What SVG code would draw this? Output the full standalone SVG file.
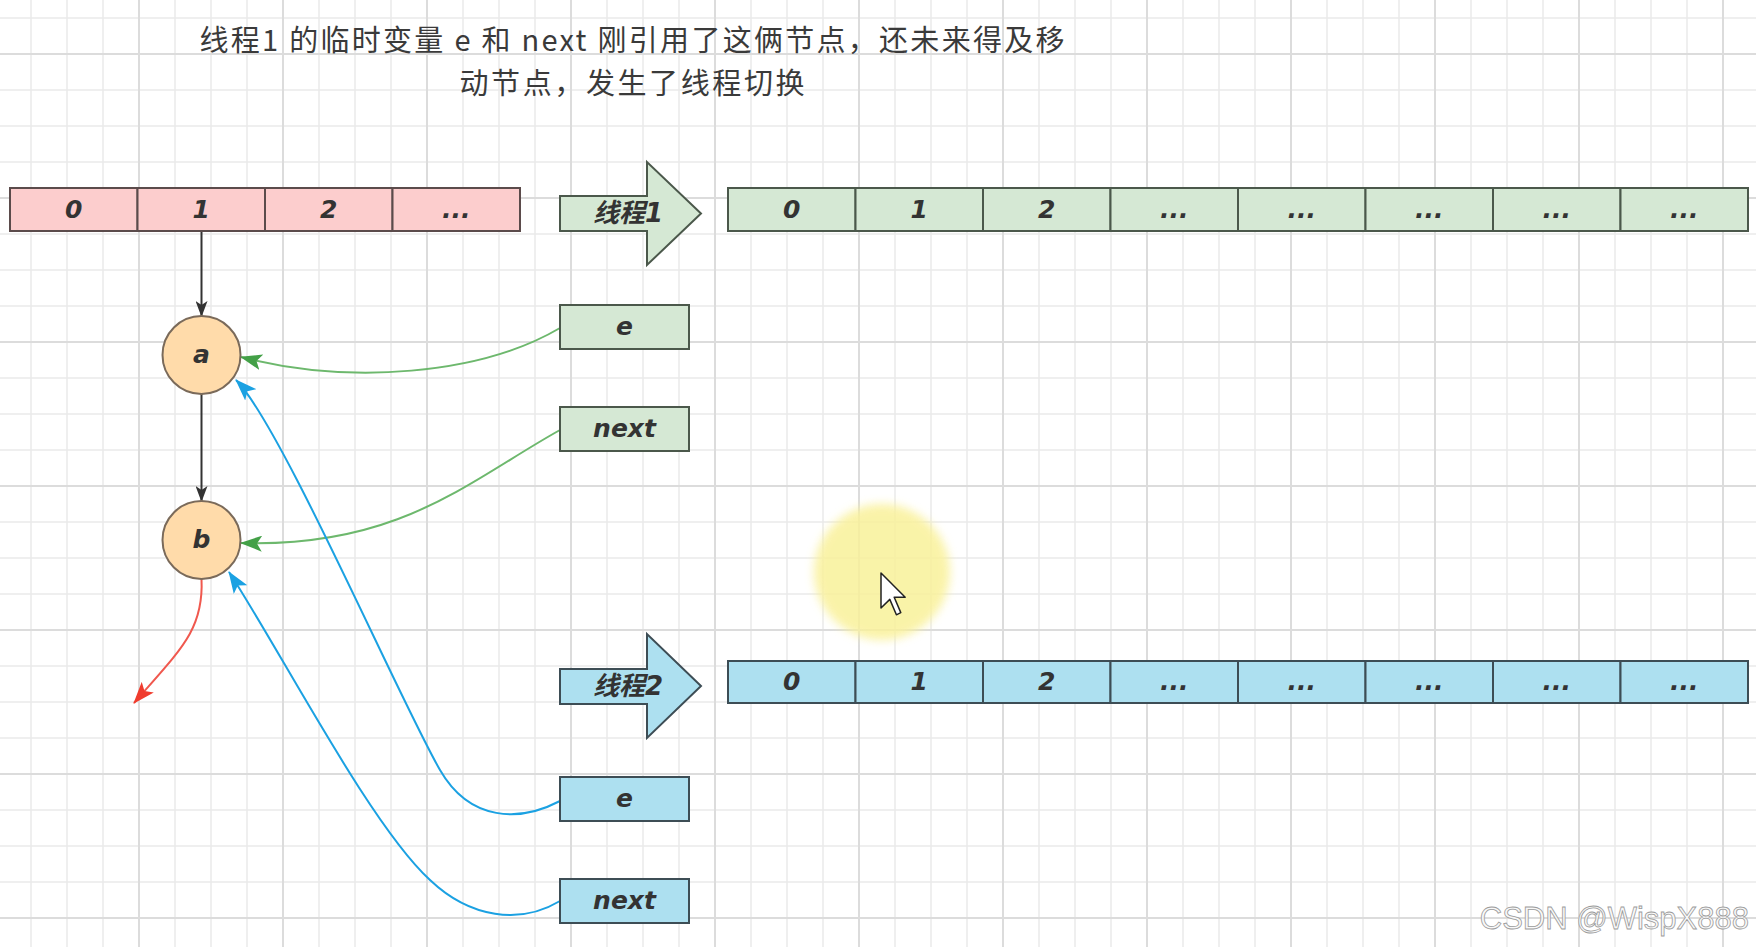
<svg xmlns="http://www.w3.org/2000/svg" width="1756" height="947" viewBox="0 0 1756 947">
<style>
.pink{fill:#fccdcd;stroke:#5b4b4b;stroke-width:2}
.green{fill:#d5e8d4;stroke:#4b584b;stroke-width:2}
.blue{fill:#ade0f0;stroke:#3d4d55;stroke-width:2}
.circ{fill:#ffdbaa;stroke:#7a6a5a;stroke-width:2}
.lbl{font-family:"DejaVu Sans","Noto Sans CJK SC",sans-serif;font-weight:bold;font-style:italic;font-size:25px;fill:#333;text-anchor:middle}
.albl{font-family:"DejaVu Sans","Noto Sans CJK SC",sans-serif;font-weight:bold;font-style:italic;font-size:26px;fill:#333;text-anchor:middle}
.title{font-family:"Noto Sans CJK SC",sans-serif;font-size:29px;fill:#3a3a3a;text-anchor:middle}
.edge{fill:none;stroke-width:2}
</style>
<defs>
<pattern id="minor" patternUnits="userSpaceOnUse" x="30" y="17" width="36" height="36">
<path d="M1 0 V36 M0 1 H36" stroke="#eaeaea" stroke-width="1.5" fill="none"/>
</pattern>
<pattern id="major" patternUnits="userSpaceOnUse" x="138" y="53" width="144" height="144">
<path d="M1 0 V144 M0 1 H144" stroke="#dcdcdc" stroke-width="2" fill="none"/>
</pattern>
<filter id="blur" x="-30%" y="-30%" width="160%" height="160%"><feGaussianBlur stdDeviation="5"/></filter>
<marker id="hk" markerUnits="userSpaceOnUse" viewBox="0 0 16 12" markerWidth="16" markerHeight="12" refX="15" refY="6" orient="auto"><path d="M0,0 L16,6 L0,12 L4,6 Z" fill="#333"/></marker>
<marker id="hg" markerUnits="userSpaceOnUse" viewBox="0 0 22 16" markerWidth="22" markerHeight="16" refX="21" refY="8" orient="auto"><path d="M0,0 L22,8 L0,16 L5,8 Z" fill="#43a047"/></marker>
<marker id="hb" markerUnits="userSpaceOnUse" viewBox="0 0 22 16" markerWidth="22" markerHeight="16" refX="21" refY="8" orient="auto"><path d="M0,0 L22,8 L0,16 L5,8 Z" fill="#1ba1e2"/></marker>
<marker id="hr" markerUnits="userSpaceOnUse" viewBox="0 0 22 16" markerWidth="22" markerHeight="16" refX="21" refY="8" orient="auto"><path d="M0,0 L22,8 L0,16 L5,8 Z" fill="#f03c2e"/></marker>
</defs>

<rect x="0" y="0" width="1756" height="947" fill="#ffffff"/>
<rect x="0" y="0" width="1756" height="947" fill="url(#minor)"/>
<rect x="0" y="0" width="1756" height="947" fill="url(#major)"/>

<ellipse cx="882" cy="572" rx="68" ry="68" fill="#f9f19a" opacity="0.85" filter="url(#blur)"/>

<g id="title">
<text class="title" x="632" y="51" textLength="865">线程1 的临时变量 e 和 next 刚引用了这俩节点，还未来得及移</text>
<text class="title" x="632" y="94" textLength="345">动节点，发生了线程切换</text>
</g>

<g id="connectors">
<path class="edge" stroke="#333" d="M201.5 231 L201.5 316" marker-end="url(#hk)"/>
<path class="edge" stroke="#333" d="M201.5 394 L201.5 501" marker-end="url(#hk)"/>
<path class="edge" stroke="#f0584e" d="M201.5 579 C204 630 180 650 134 703" marker-end="url(#hr)"/>
<path class="edge" stroke="#6db86d" d="M560 328 C480 375 350 385 241 357" marker-end="url(#hg)"/>
<path class="edge" stroke="#6db86d" d="M560 430 C470 480 400 548 241 543" marker-end="url(#hg)"/>
<path class="edge" stroke="#1ba1e2" stroke-width="2.5" d="M560 801 C520 822 470 822 440 770 C400 701 281 425 236 380" marker-end="url(#hb)"/>
<path class="edge" stroke="#1ba1e2" stroke-width="2.5" d="M560 901 C520 925 470 918 430 880 C370 825 280 650 229 572" marker-end="url(#hb)"/>
</g>

<g id="old-table">
<rect class="pink" x="10" y="188" width="127.5" height="43"/>
<rect class="pink" x="137.5" y="188" width="127.5" height="43"/>
<rect class="pink" x="265" y="188" width="127.5" height="43"/>
<rect class="pink" x="392.5" y="188" width="127.5" height="43"/>
<text class="lbl" x="73.75" y="218">0</text>
<text class="lbl" x="201.25" y="218">1</text>
<text class="lbl" x="328.75" y="218">2</text>
<text class="lbl" x="456.25" y="218">...</text>
</g>

<g id="thread1-arrow">
<polygon class="green" points="560,196 647,196 647,162 701,213.5 647,265 647,231 560,231"/>
<text class="albl" x="628" y="222">线程1</text>
</g>

<g id="thread1-table">
<rect class="green" x="728" y="188" width="127.5" height="43"/>
<rect class="green" x="855.5" y="188" width="127.5" height="43"/>
<rect class="green" x="983" y="188" width="127.5" height="43"/>
<rect class="green" x="1110.5" y="188" width="127.5" height="43"/>
<rect class="green" x="1238" y="188" width="127.5" height="43"/>
<rect class="green" x="1365.5" y="188" width="127.5" height="43"/>
<rect class="green" x="1493" y="188" width="127.5" height="43"/>
<rect class="green" x="1620.5" y="188" width="127.5" height="43"/>
<text class="lbl" x="791.75" y="218">0</text>
<text class="lbl" x="919.25" y="218">1</text>
<text class="lbl" x="1046.75" y="218">2</text>
<text class="lbl" x="1174.25" y="218">...</text>
<text class="lbl" x="1301.75" y="218">...</text>
<text class="lbl" x="1429.25" y="218">...</text>
<text class="lbl" x="1556.75" y="218">...</text>
<text class="lbl" x="1684.25" y="218">...</text>
</g>

<g id="t1-e"><rect class="green" x="560" y="305" width="129" height="44"/><text class="lbl" x="624.5" y="335">e</text></g>
<g id="t1-next"><rect class="green" x="560" y="407" width="129" height="44"/><text class="lbl" x="624.5" y="437">next</text></g>

<g id="node-a"><circle class="circ" cx="201.5" cy="355" r="39"/><text class="lbl" x="201.5" y="363">a</text></g>
<g id="node-b"><circle class="circ" cx="201.5" cy="540" r="39"/><text class="lbl" x="201.5" y="548">b</text></g>

<g id="thread2-arrow">
<polygon class="blue" points="560,669 647,669 647,634 701,686 647,738 647,704 560,704"/>
<text class="albl" x="628" y="695">线程2</text>
</g>

<g id="thread2-table">
<rect class="blue" x="728" y="661" width="127.5" height="42"/>
<rect class="blue" x="855.5" y="661" width="127.5" height="42"/>
<rect class="blue" x="983" y="661" width="127.5" height="42"/>
<rect class="blue" x="1110.5" y="661" width="127.5" height="42"/>
<rect class="blue" x="1238" y="661" width="127.5" height="42"/>
<rect class="blue" x="1365.5" y="661" width="127.5" height="42"/>
<rect class="blue" x="1493" y="661" width="127.5" height="42"/>
<rect class="blue" x="1620.5" y="661" width="127.5" height="42"/>
<text class="lbl" x="791.75" y="690">0</text>
<text class="lbl" x="919.25" y="690">1</text>
<text class="lbl" x="1046.75" y="690">2</text>
<text class="lbl" x="1174.25" y="690">...</text>
<text class="lbl" x="1301.75" y="690">...</text>
<text class="lbl" x="1429.25" y="690">...</text>
<text class="lbl" x="1556.75" y="690">...</text>
<text class="lbl" x="1684.25" y="690">...</text>
</g>

<g id="t2-e"><rect class="blue" x="560" y="777" width="129" height="44"/><text class="lbl" x="624.5" y="807">e</text></g>
<g id="t2-next"><rect class="blue" x="560" y="879" width="129" height="44"/><text class="lbl" x="624.5" y="909">next</text></g>

<polygon points="881,573 881,608 889.8,599.4 896.4,614.8 900.8,612.6 894.2,597.2 905.2,597.2" fill="#ffffff" stroke="#222" stroke-width="1.5" stroke-linejoin="round"/>

<text x="1749" y="929" text-anchor="end" font-family="Liberation Sans, Arial, sans-serif" font-size="31" fill="#f8f8f8" stroke="#9a9a9a" stroke-width="0.8">CSDN @WispX888</text>
</svg>
